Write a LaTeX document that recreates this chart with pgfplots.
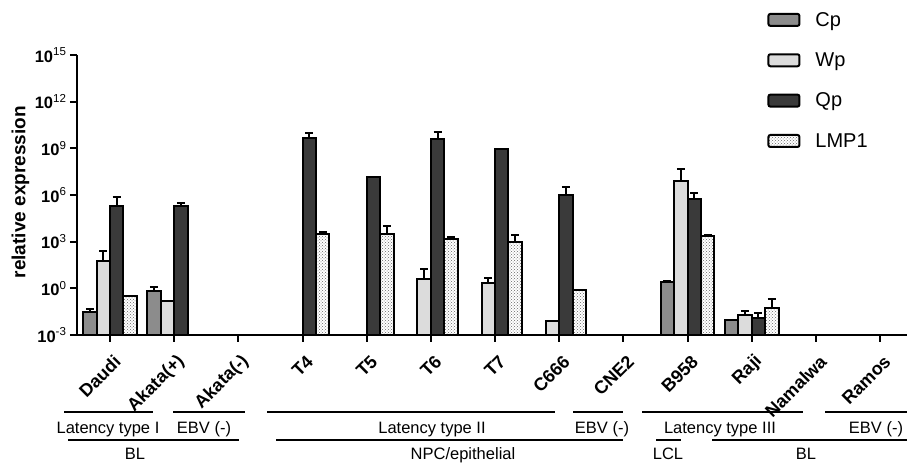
\documentclass[border=0pt]{standalone}
\usepackage{pgfplots}
\pgfplotsset{compat=1.18}
\usepackage{pgfplotstable}
\usetikzlibrary{patterns}
\usepackage{fontspec}
\setmainfont{Liberation Sans}

\definecolor{cpgray}{RGB}{140,140,140}
\definecolor{wpgray}{RGB}{220,220,220}
\definecolor{qpgray}{RGB}{58,58,58}

\pgfplotstableread{
x y e
0 0.028 0.022
1 0.65 0.5
9 2.7 0.2
10 0.0091 0
}\cpdata
\pgfplotstableread{
x y e
0 55 196
1 0.148 0
5 3.8 14.8
6 2.1 2.3
7 0.0079 0
9 7.9e6 3.7e7
10 0.018 0.017
}\wpdata
\pgfplotstableread{
x y e
0 1.86e5 5.2e5
1 2.1e5 0.8e5
3 4.8e9 5.2e9
4 1.5e7 0
5 3.8e9 7.4e9
6 8.5e8 0
7 1.0e6 2.5e6
9 5.8e5 0.8e6
10 0.0132 0.0113
}\qpdata
\pgfplotstableread{
x y e
0 0.32 0.02
3 2950 1050
4 2950 7000
5 1550 450
6 955 1600
7 0.78 0
9 2290 300
10 0.057 0.138
}\lmpdata

\begin{document}
\begin{tikzpicture}[x=1pt,y=1pt]
\useasboundingbox (0,0) rectangle (908,463);
\begin{axis}[
  at={(77pt,128pt)}, anchor=south west,
  scale only axis, width=830pt, height=280pt,
  ymode=log, log basis y=10, log origin=infty,
  ymin=1e-3, ymax=1e15,
  xmin=-0.514, xmax=12.42,
  axis lines=left, axis line style={-, line width=2pt},
  tick style={black, line width=2pt}, major tick length=7pt, tick align=outside,
  yminorticks=false,
  ytick={1e-3,1,1e3,1e6,1e9,1e12,1e15},
  yticklabels={{\textbf{10}\textsuperscript{-3}},{\textbf{10}\textsuperscript{0}},{\textbf{10}\textsuperscript{3}},{\textbf{10}\textsuperscript{6}},{\textbf{10}\textsuperscript{9}},{\textbf{10}\textsuperscript{12}},{\textbf{10}\textsuperscript{15}}},
  yticklabel style={font=\fontsize{16.5}{16.5}\selectfont},
  xtick={0,...,12},
  xticklabels={Daudi,Akata(+),Akata(-),T4,T5,T6,T7,C666,CNE2,B958,Raji,Namalwa,Ramos},
  xticklabel style={rotate=45, anchor=east, font=\bfseries\fontsize{18}{18}\selectfont, xshift=-3pt, yshift=-17pt},
  ylabel={relative expression},
  every axis y label/.style={at={(axis description cs:-0.068,0.51)}, rotate=90, anchor=center, font=\bfseries\fontsize{19}{19}\selectfont},
  ybar=0pt, bar width=0.21,
  every axis plot/.append style={draw=black, line width=2pt},
  error bars/y dir=plus, error bars/y explicit,
  error bars/error bar style={line width=2pt, black},
  error bars/error mark options={rotate=90, mark size=4pt, line width=2pt, black},
  legend image code/.code={\draw[#1, line width=2pt, rounded corners=2pt] (0pt,-6pt) rectangle (31pt,6pt);},
  legend cell align=left,
  legend style={draw=none, fill=none, font=\fontsize{20}{20}\selectfont, row sep=21pt,
    /tikz/every odd column/.append style={column sep=13pt},
    at={(axis description cs:0.828,1.168)}, anchor=north west},
  clip=false,
]
\addplot[fill=cpgray] table[x=x, y=y, y error=e] {\cpdata};
\addplot[fill=wpgray] table[x=x, y=y, y error=e] {\wpdata};
\addplot[fill=qpgray] table[x=x, y=y, y error=e] {\qpdata};
\addplot[pattern=crosshatch dots, pattern color=black!60] table[x=x, y=y, y error=e] {\lmpdata};
\legend{Cp,Wp,Qp,LMP1}
\end{axis}
% group annotations
\begin{scope}[line width=2pt, every node/.style={font=\fontsize{16.5}{16.5}\selectfont, anchor=base}]
\draw (64,50.5) -- (153,50.5);
\draw (173,50.5) -- (245,50.5);
\draw (267,50.5) -- (555,50.5);
\draw (573,50.5) -- (623,50.5);
\draw (642,50.5) -- (803,50.5);
\draw (825,50.5) -- (907,50.5);
\node at (108,29) {Latency type I};
\node at (204,29) {EBV (-)};
\node at (432,29) {Latency type II};
\node at (602,29) {EBV (-)};
\node at (720,29) {Latency type III};
\node at (876,29) {EBV (-)};
\draw (68,23) -- (239,23);
\draw (276,23) -- (623,23);
\draw (656,23) -- (681,23);
\draw (712,23) -- (907,23);
\node at (135,3) {BL};
\node at (463,3) {NPC/epithelial};
\node at (668,3) {LCL};
\node at (806,3) {BL};
\end{scope}
\end{tikzpicture}
\end{document}
